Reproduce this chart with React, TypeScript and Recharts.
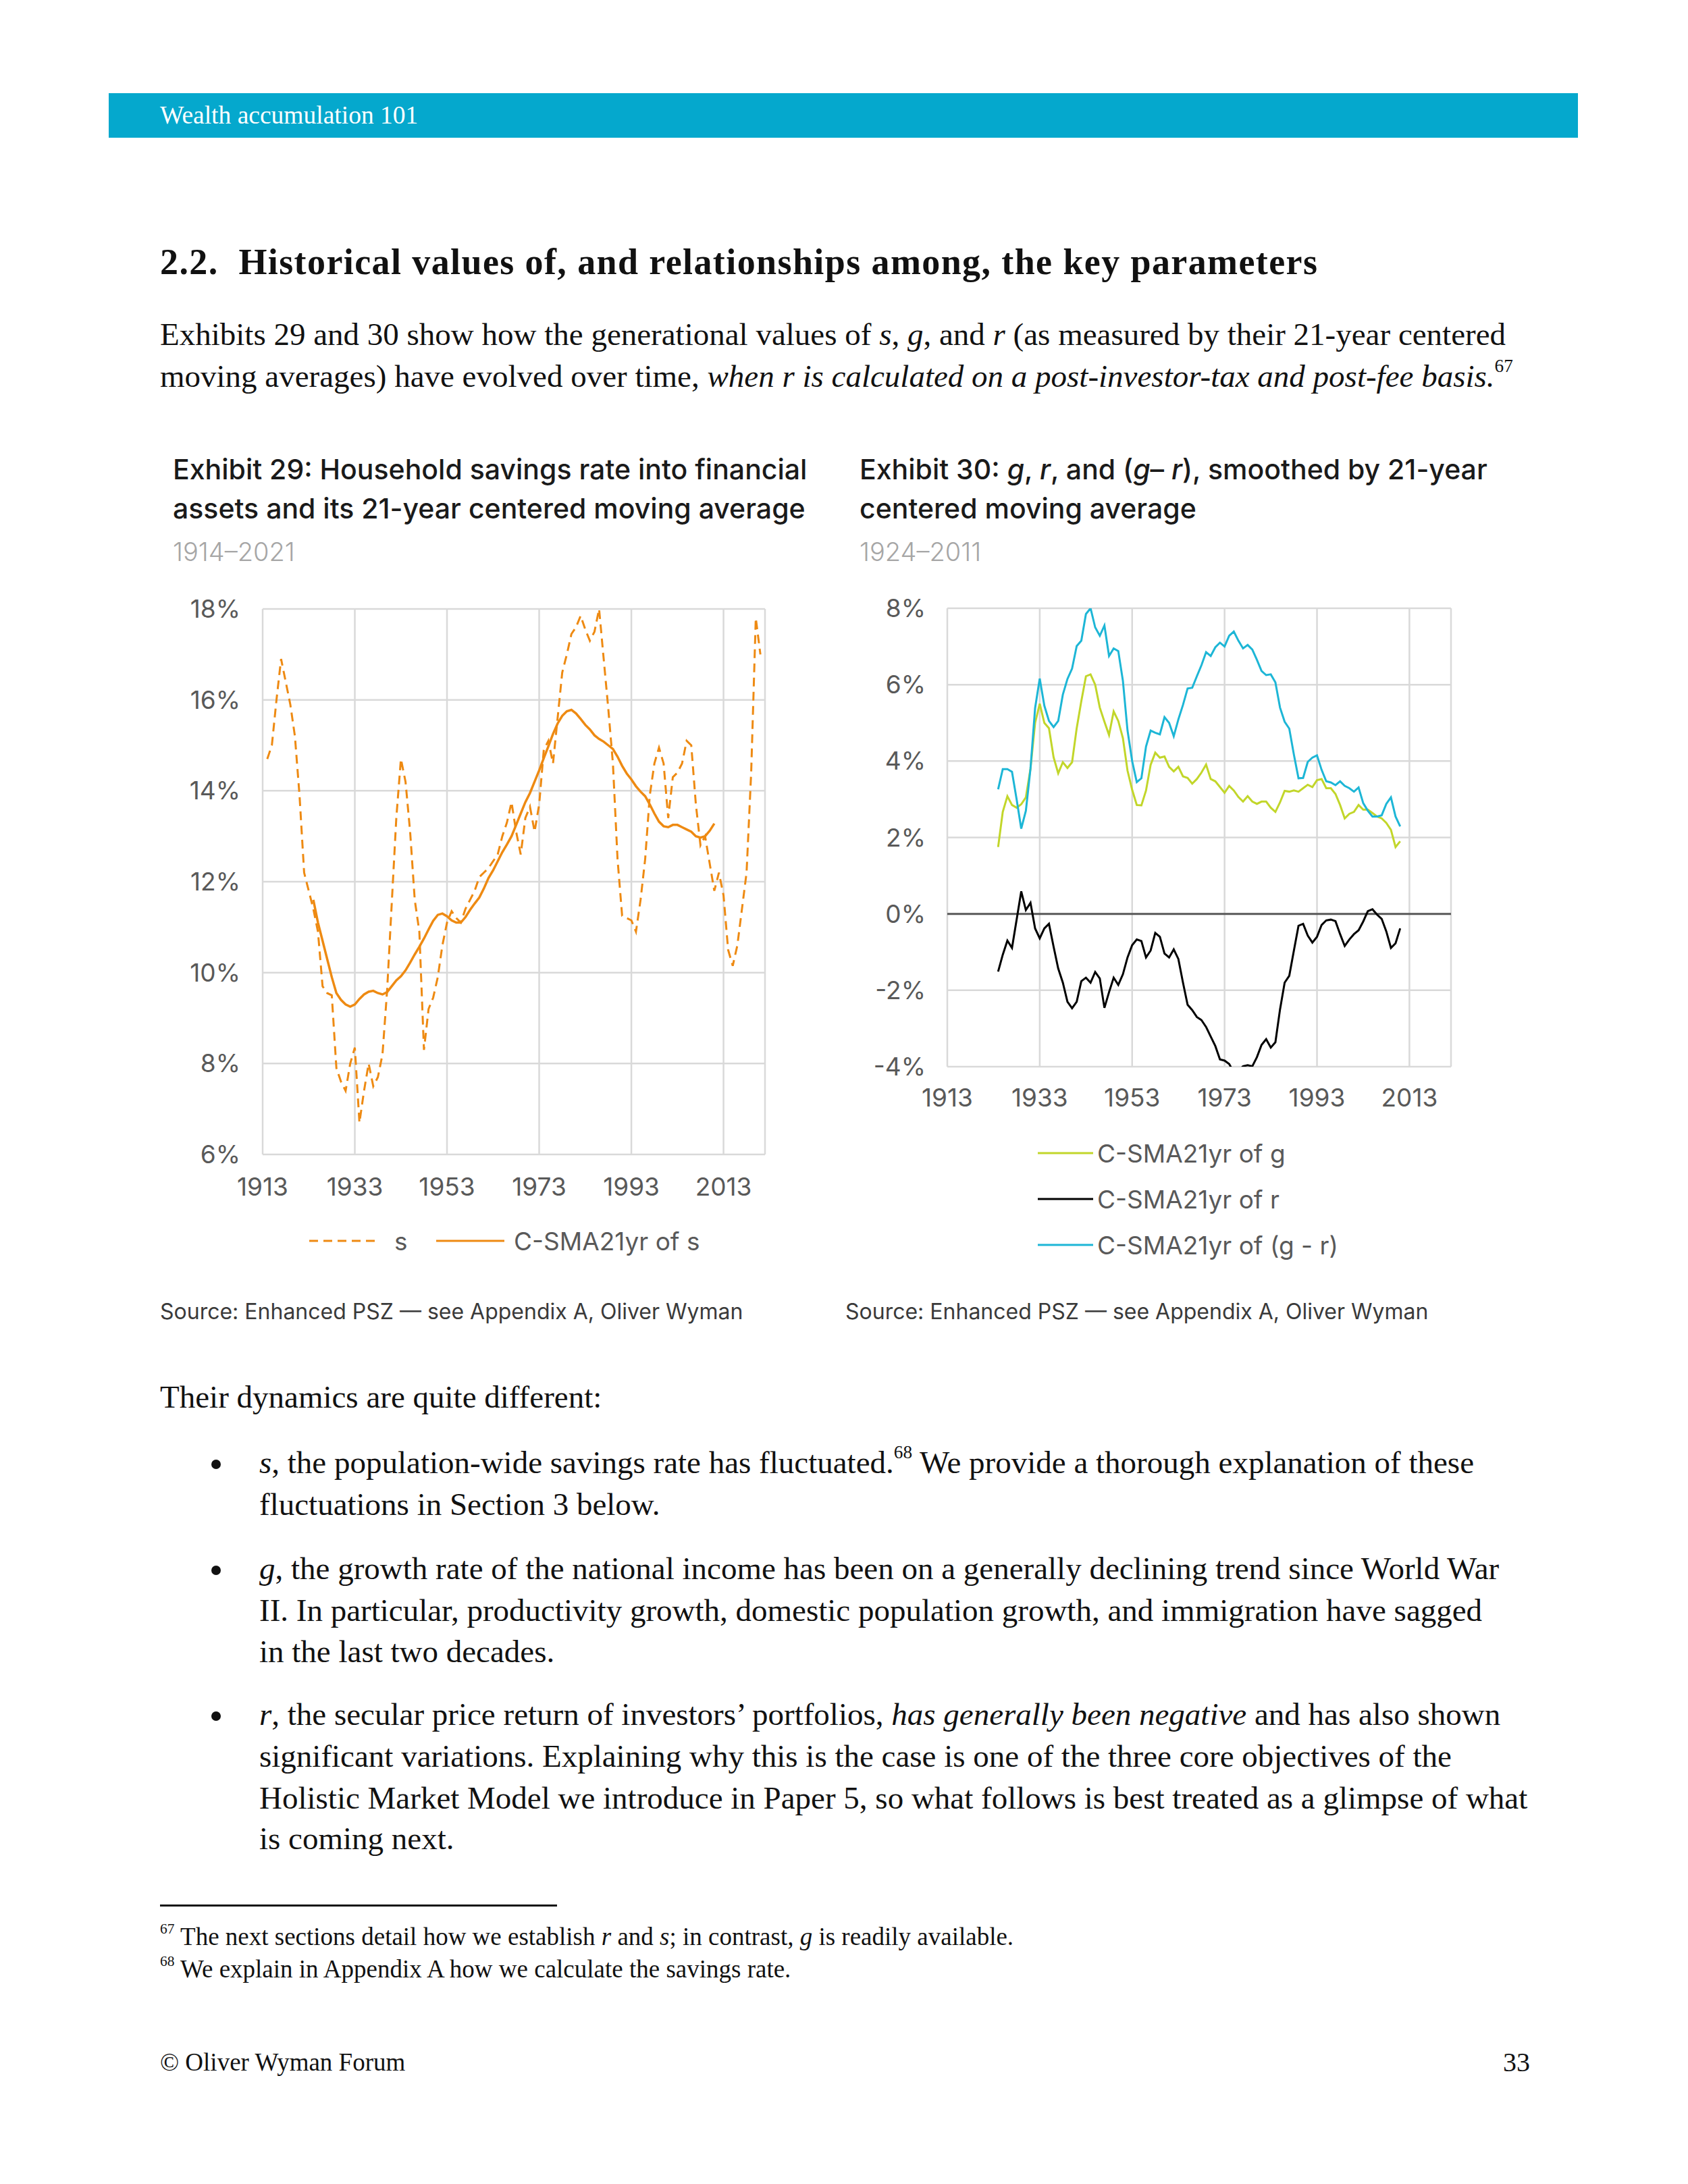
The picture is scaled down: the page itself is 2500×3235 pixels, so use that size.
import React from 'react'
import {
  LineChart,
  Line,
  XAxis,
  YAxis,
  CartesianGrid,
  ReferenceLine,
} from 'recharts'

// Exhibit 29: household savings rate s (1914-2021) and its 21-yr centered average (1924-2011)
const sStartYear = 1914
const sValues = [
  14.7, 15.0, 16.0, 16.9, 16.4, 15.9, 15.2, 13.9, 12.2, 11.8,
  11.4, 10.9, 9.7, 9.55, 9.5, 7.9, 7.6, 7.4, 8.0, 8.35,
  6.7, 7.4, 8.0, 7.5, 7.7, 8.2, 9.6, 11.5, 13.4, 14.7,
  14.2, 13.1, 11.6, 10.9, 8.3, 9.2, 9.45, 9.9, 10.6, 11.1,
  11.35, 11.2, 11.1, 11.4, 11.6, 11.8, 12.1, 12.2, 12.3, 12.45,
  12.6, 13.0, 13.3, 13.75, 13.1, 12.6, 13.4, 13.65, 13.1, 13.7,
  14.9, 15.1, 14.6, 15.6, 16.6, 17.0, 17.45, 17.6, 17.85, 17.55,
  17.3, 17.5, 18.0, 16.9, 15.8, 14.6, 12.5, 11.25, 11.2, 11.15,
  10.9, 11.6, 12.5, 13.9, 14.6, 14.95, 14.6, 13.4, 14.3, 14.4,
  14.6, 15.1, 15.0, 13.7, 12.8, 13.0, 12.4, 11.8, 12.2, 11.7,
  10.5, 10.15, 10.6, 11.4, 12.2, 14.4, 17.8, 17.0,
]
const smaStartYear = 1924
const smaValues = [
  11.6, 11.1, 10.7, 10.3, 9.9, 9.55, 9.4, 9.3, 9.25, 9.3,
  9.42, 9.52, 9.58, 9.6, 9.55, 9.52, 9.57, 9.7, 9.83, 9.92,
  10.05, 10.22, 10.4, 10.57, 10.75, 10.95, 11.14, 11.27, 11.3, 11.24,
  11.15, 11.1, 11.1, 11.22, 11.38, 11.52, 11.65, 11.85, 12.08, 12.25,
  12.45, 12.65, 12.82, 13.0, 13.25, 13.5, 13.75, 13.95, 14.2, 14.45,
  14.72, 14.98, 15.25, 15.48, 15.65, 15.75, 15.78, 15.7, 15.58, 15.45,
  15.35, 15.22, 15.14, 15.08, 15.0, 14.92, 14.75, 14.55, 14.38, 14.25,
  14.1, 13.98, 13.88, 13.7, 13.5, 13.32, 13.22, 13.2, 13.25, 13.25,
  13.2, 13.15, 13.1, 13.0, 12.97, 13.0, 13.12, 13.28,
]
const sTicks = [6, 8, 10, 12, 14, 16, 18]

// Exhibit 30: g, r and (g - r), 21-yr centered averages, 1924-2011
const grStartYear = 1924
const gValues = [
  1.75, 2.67, 3.08, 2.85, 2.78, 2.87, 3.05, 3.8, 5.0, 5.5,
  5.0, 4.86, 4.1, 3.68, 3.97, 3.82, 3.97, 4.86, 5.57, 6.22,
  6.27, 6.0, 5.4, 5.03, 4.68, 5.3, 5.05, 4.6, 3.75, 3.25,
  2.85, 2.84, 3.23, 3.9, 4.22, 4.09, 4.12, 3.85, 3.73, 3.85,
  3.6, 3.56, 3.41, 3.53, 3.7, 3.91, 3.53, 3.47, 3.32, 3.17,
  3.35, 3.23, 3.06, 2.94, 3.08, 2.94, 2.88, 2.94, 2.94, 2.78,
  2.67, 2.92, 3.22, 3.2, 3.23, 3.2, 3.29, 3.38, 3.32, 3.5,
  3.53, 3.29, 3.29, 3.14, 2.85, 2.5, 2.62, 2.67, 2.85, 2.73,
  2.73, 2.64, 2.55, 2.5, 2.38, 2.2, 1.75, 1.9,
]
const rValues = [
  -1.51, -1.07, -0.7, -0.89, -0.15, 0.59, 0.1, 0.29, -0.38, -0.64,
  -0.38, -0.26, -0.86, -1.43, -1.8, -2.3, -2.47, -2.3, -1.76, -1.67,
  -1.8, -1.52, -1.69, -2.46, -2.05, -1.67, -1.86, -1.58, -1.14, -0.82,
  -0.67, -0.71, -1.14, -0.96, -0.5, -0.6, -1.04, -1.14, -0.93, -1.18,
  -1.8, -2.38, -2.52, -2.7, -2.78, -2.96, -3.21, -3.46, -3.81, -3.84,
  -3.93, -4.15, -4.1, -3.99, -3.96, -3.99, -3.75, -3.43, -3.28, -3.5,
  -3.36, -2.5, -1.8, -1.62, -0.96, -0.31, -0.26, -0.57, -0.75, -0.6,
  -0.29, -0.17, -0.15, -0.19, -0.53, -0.84, -0.67, -0.53, -0.43, -0.2,
  0.07, 0.12, -0.02, -0.13, -0.46, -0.89, -0.77, -0.38,
]
const gMinusRValues = [
  3.26, 3.79, 3.79, 3.72, 3.0, 2.23, 2.7, 3.8, 5.39, 6.16,
  5.45, 5.05, 4.89, 5.05, 5.74, 6.15, 6.42, 7.01, 7.15, 7.85,
  8.0, 7.5, 7.28, 7.55, 6.75, 6.95, 6.88, 6.1, 4.8, 4.0,
  3.45, 3.55, 4.38, 4.8, 4.74, 4.7, 5.15, 5.0, 4.65, 5.09,
  5.47, 5.9, 5.92, 6.22, 6.51, 6.85, 6.75, 6.98, 7.1, 7.0,
  7.28, 7.39, 7.15, 6.95, 7.04, 6.92, 6.65, 6.36, 6.25, 6.27,
  6.06, 5.4, 5.03, 4.85, 4.17, 3.55, 3.56, 3.98, 4.09, 4.15,
  3.77, 3.47, 3.44, 3.37, 3.47, 3.35, 3.29, 3.2, 3.31, 2.9,
  2.7, 2.55, 2.55, 2.58, 2.88, 3.05, 2.55, 2.29,
]
const grTicks = [-4, -2, 0, 2, 4, 6, 8]

const yearTicks = [1913, 1933, 1953, 1973, 1993, 2013]

const savingsRows = sValues.map((s, i) => {
  const year = sStartYear + i
  const j = year - smaStartYear
  return { year, s, sma: j >= 0 && j < smaValues.length ? smaValues[j] : null }
})

const growthRows = gValues.map((g, i) => ({
  year: grStartYear + i,
  g,
  r: rValues[i],
  gr: gMinusRValues[i],
}))

const ORANGE = '#EE8A12'
const LIME = '#C2D62A'
const CYAN = '#1DB6D6'
const AXIS_GREY = '#595959'
const SERIF = '"Liberation Serif", "Times New Roman", serif'
const SANS = 'Inter, "Noto Sans", sans-serif'

const tickStyle = { fill: AXIS_GREY, fontSize: 37, fontFamily: SANS }
const pct = (v: number) => `${v}%`

function Text({
  x,
  y,
  size,
  children,
  style,
}: {
  x: number
  y: number
  size: number
  children: React.ReactNode
  style?: React.CSSProperties
}) {
  const lh = Math.round(size * 1.3)
  return (
    <div
      style={{
        position: 'absolute',
        left: x,
        top: y - lh / 2,
        fontSize: size,
        lineHeight: `${lh}px`,
        whiteSpace: 'nowrap',
        ...style,
      }}
    >
      {children}
    </div>
  )
}

function Sup({ children }: { children: React.ReactNode }) {
  return (
    <sup style={{ fontSize: '0.58em', lineHeight: 0, verticalAlign: '0.8em' }}>
      {children}
    </sup>
  )
}

function Bullet({ y }: { y: number }) {
  return (
    <div
      style={{
        position: 'absolute',
        left: 313,
        top: y - 4,
        width: 14,
        height: 14,
        borderRadius: '50%',
        background: '#111',
      }}
    />
  )
}

function LegendKey({
  x,
  y,
  len,
  color,
  dashed,
  label,
  gap,
}: {
  x: number
  y: number
  len: number
  color: string
  dashed?: boolean
  label: string
  gap: number
}) {
  return (
    <div
      style={{
        position: 'absolute',
        left: x,
        top: y - 25,
        height: 50,
        display: 'flex',
        alignItems: 'center',
        fontFamily: SANS,
        fontSize: 37,
        color: AXIS_GREY,
        whiteSpace: 'nowrap',
      }}
    >
      <svg width={len} height={10} style={{ marginRight: gap }}>
        <line
          x1={0}
          y1={5}
          x2={len}
          y2={5}
          stroke={color}
          strokeWidth={3}
          strokeDasharray={dashed ? '13 8' : undefined}
        />
      </svg>
      <span>{label}</span>
    </div>
  )
}

function SavingsChart() {
  return (
    <div style={{ position: 'absolute', left: 240, top: 860 }}>
      <LineChart
        width={900}
        height={940}
        data={savingsRows}
        margin={{ top: 42, right: 7, bottom: 0, left: 0 }}
      >
        <CartesianGrid stroke="#D9D9D9" strokeWidth={2.5} />
        <XAxis
          dataKey="year"
          type="number"
          domain={[1913, 2022]}
          ticks={yearTicks}
          interval={0}
          axisLine={false}
          tickLine={false}
          tickSize={6}
          tickMargin={29}
          height={90}
          tick={tickStyle}
        />
        <YAxis
          domain={[6, 18]}
          ticks={sTicks}
          interval={0}
          width={149}
          axisLine={false}
          tickLine={false}
          tickSize={6}
          tickMargin={27}
          tickFormatter={pct}
          tick={tickStyle}
        />
        <Line
          dataKey="s"
          stroke={ORANGE}
          strokeWidth={3}
          strokeDasharray="13 8"
          dot={false}
          isAnimationActive={false}
        />
        <Line
          dataKey="sma"
          stroke={ORANGE}
          strokeWidth={3.5}
          dot={false}
          isAnimationActive={false}
        />
      </LineChart>
    </div>
  )
}

function GrowthChart() {
  return (
    <div style={{ position: 'absolute', left: 1260, top: 860 }}>
      <LineChart
        width={900}
        height={810}
        data={growthRows}
        margin={{ top: 41, right: 11, bottom: 0, left: 0 }}
      >
        <CartesianGrid stroke="#D9D9D9" strokeWidth={2.5} />
        <XAxis
          dataKey="year"
          type="number"
          domain={[1913, 2022]}
          ticks={yearTicks}
          interval={0}
          axisLine={false}
          tickLine={false}
          tickSize={6}
          tickMargin={27}
          height={90}
          tick={tickStyle}
        />
        <YAxis
          domain={[-4, 8]}
          allowDataOverflow
          ticks={grTicks}
          interval={0}
          width={143}
          axisLine={false}
          tickLine={false}
          tickSize={6}
          tickMargin={26}
          tickFormatter={pct}
          tick={tickStyle}
        />
        <ReferenceLine y={0} stroke="#595959" strokeWidth={3} />
        <Line
          dataKey="g"
          stroke={LIME}
          strokeWidth={3}
          dot={false}
          isAnimationActive={false}
        />
        <Line
          dataKey="r"
          stroke="#000000"
          strokeWidth={3}
          dot={false}
          isAnimationActive={false}
        />
        <Line
          dataKey="gr"
          stroke={CYAN}
          strokeWidth={3}
          dot={false}
          isAnimationActive={false}
        />
      </LineChart>
    </div>
  )
}

export default function App() {
  const body = { fontFamily: SERIF, color: '#111' }
  const title = { fontFamily: SANS, color: '#1a1a1a', fontWeight: 500 }
  const dates = { fontFamily: SANS, color: '#A6A6A6', fontWeight: 300 }
  const source = { fontFamily: SANS, color: '#3a3a3a' }
  return (
    <div
      style={{
        position: 'absolute',
        left: 0,
        top: 0,
        width: 2500,
        height: 3235,
        background: '#fff',
        overflow: 'hidden',
      }}
    >
      <div
        style={{
          position: 'absolute',
          left: 161,
          top: 138,
          width: 2176,
          height: 66,
          background: '#05A8CD',
        }}
      />
      <Text x={237} y={170} size={37.5} style={{ ...body, color: '#fff' }}>
        Wealth accumulation 101
      </Text>

      <Text
        x={237}
        y={388}
        size={54}
        style={{ ...body, fontWeight: 700, letterSpacing: 1.4 }}
      >
        2.2.&nbsp; Historical values of, and relationships among, the key parameters
      </Text>

      <Text x={237} y={495} size={47} style={body}>
        Exhibits 29 and 30 show how the generational values of <i>s</i>, <i>g</i>, and{' '}
        <i>r</i> (as measured by their 21-year centered
      </Text>
      <Text x={237} y={557} size={47} style={body}>
        moving averages) have evolved over time,{' '}
        <i>when r is calculated on a post-investor-tax and post-fee basis.</i>
        <Sup>67</Sup>
      </Text>

      <Text x={256} y={695} size={41} style={title}>
        Exhibit 29: Household savings rate into financial
      </Text>
      <Text x={256} y={753} size={41} style={title}>
        assets and its 21-year centered moving average
      </Text>
      <Text x={256} y={817} size={38} style={dates}>
        1914–2021
      </Text>

      <Text x={1273} y={695} size={41} style={title}>
        Exhibit 30: <i>g</i>, <i>r</i>, and (<i>g</i>– <i>r</i>), smoothed by 21-year
      </Text>
      <Text x={1273} y={753} size={41} style={title}>
        centered moving average
      </Text>
      <Text x={1273} y={817} size={38} style={dates}>
        1924–2011
      </Text>

      <SavingsChart />
      <GrowthChart />

      <LegendKey x={458} y={1838} len={103} color={ORANGE} dashed label="s" gap={23} />
      <LegendKey x={646} y={1838} len={101} color={ORANGE} label="C-SMA21yr of s" gap={14} />

      <LegendKey x={1537} y={1708} len={82} color={LIME} label="C-SMA21yr of g" gap={6} />
      <LegendKey x={1537} y={1776} len={82} color="#000" label="C-SMA21yr of r" gap={6} />
      <LegendKey x={1537} y={1844} len={82} color={CYAN} label="C-SMA21yr of (g - r)" gap={6} />

      <Text x={237} y={1943} size={32} style={source}>
        Source: Enhanced PSZ — see Appendix A, Oliver Wyman
      </Text>
      <Text x={1252} y={1943} size={32} style={source}>
        Source: Enhanced PSZ — see Appendix A, Oliver Wyman
      </Text>

      <Text x={237} y={2069} size={47} style={body}>
        Their dynamics are quite different:
      </Text>

      <Bullet y={2166} />
      <Text x={384} y={2166} size={47} style={body}>
        <i>s</i>, the population-wide savings rate has fluctuated.<Sup>68</Sup> We provide a
        thorough explanation of these
      </Text>
      <Text x={384} y={2228} size={47} style={body}>
        fluctuations in Section 3 below.
      </Text>

      <Bullet y={2323} />
      <Text x={384} y={2323} size={47} style={body}>
        <i>g</i>, the growth rate of the national income has been on a generally declining
        trend since World War
      </Text>
      <Text x={384} y={2385} size={47} style={body}>
        II. In particular, productivity growth, domestic population growth, and immigration
        have sagged
      </Text>
      <Text x={384} y={2446} size={47} style={body}>
        in the last two decades.
      </Text>

      <Bullet y={2539} />
      <Text x={384} y={2539} size={47} style={body}>
        <i>r</i>, the secular price return of investors’ portfolios,{' '}
        <i>has generally been negative</i> and has also shown
      </Text>
      <Text x={384} y={2601} size={47} style={body}>
        significant variations. Explaining why this is the case is one of the three core
        objectives of the
      </Text>
      <Text x={384} y={2663} size={47} style={body}>
        Holistic Market Model we introduce in Paper 5, so what follows is best treated as a
        glimpse of what
      </Text>
      <Text x={384} y={2723} size={47} style={body}>
        is coming next.
      </Text>

      <div
        style={{
          position: 'absolute',
          left: 237,
          top: 2821,
          width: 588,
          height: 3,
          background: '#111',
        }}
      />
      <Text x={237} y={2869} size={37} style={body}>
        <Sup>67</Sup> The next sections detail how we establish <i>r</i> and <i>s</i>; in
        contrast, <i>g</i> is readily available.
      </Text>
      <Text x={237} y={2917} size={37} style={body}>
        <Sup>68</Sup> We explain in Appendix A how we calculate the savings rate.
      </Text>

      <Text x={237} y={3055} size={37} style={body}>
        © Oliver Wyman Forum
      </Text>
      <Text x={2226} y={3055} size={40} style={body}>
        33
      </Text>
    </div>
  )
}
